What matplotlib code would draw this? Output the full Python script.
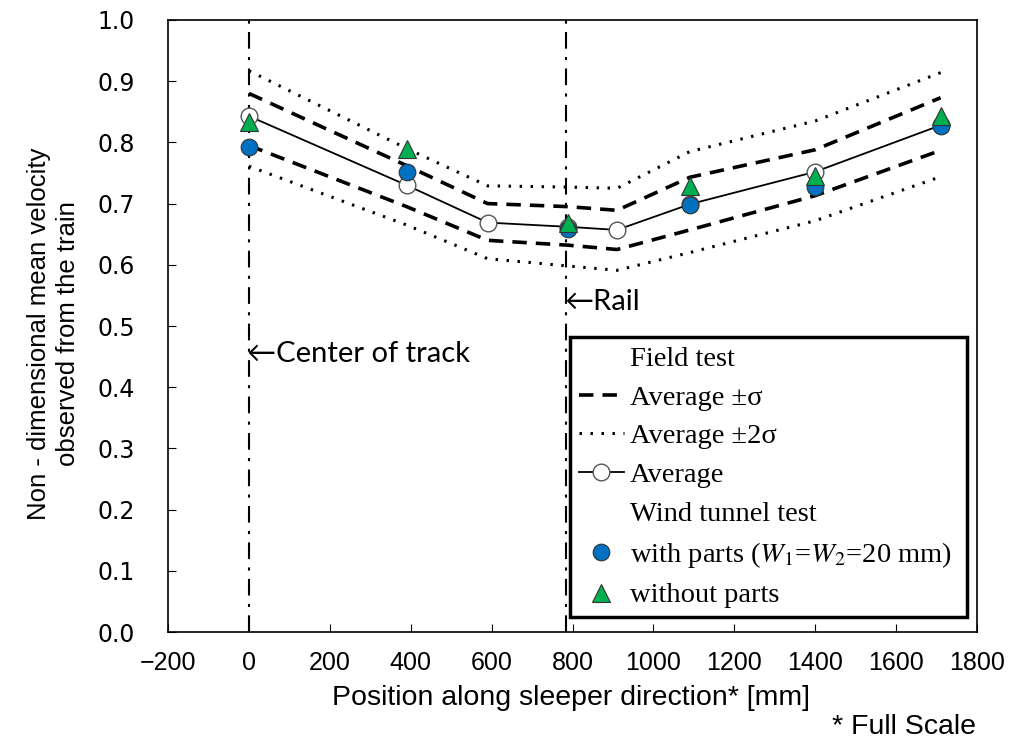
import matplotlib.pyplot as plt
from matplotlib.lines import Line2D

plt.rcParams['font.family'] = ['Liberation Sans', 'DejaVu Sans']
plt.rcParams['mathtext.fontset'] = 'stix'

# field test (positions in mm)
pos = [0, 390, 590, 790, 910, 1090, 1400, 1710]
avg = [0.843, 0.730, 0.669, 0.662, 0.657, 0.699, 0.752, 0.828]
sig_hi = [0.880, 0.762, 0.700, 0.695, 0.689, 0.743, 0.788, 0.873]
sig_lo = [0.795, 0.695, 0.640, 0.632, 0.625, 0.657, 0.713, 0.787]
two_hi = [0.917, 0.790, 0.729, 0.727, 0.725, 0.785, 0.835, 0.914]
two_lo = [0.761, 0.665, 0.610, 0.598, 0.591, 0.620, 0.672, 0.744]

# wind tunnel test
wt_pos = [0, 390, 790, 1090, 1400, 1710]
with_parts = [0.792, 0.752, 0.658, 0.698, 0.727, 0.826]
without_parts = [0.833, 0.790, 0.668, 0.728, 0.745, 0.843]

track_x = 0
rail_x = 785

dash = (0, (4, 2.5))
dots = (0, (0.8, 2.8))

fig = plt.figure(figsize=(10.11, 7.46), dpi=100)
ax = fig.add_axes([0.1662, 0.1528, 0.8002, 0.8204])

ax.axvline(track_x, color='black', lw=1.5, ls=(0, (8, 4, 1.5, 4)), zorder=1)
ax.axvline(rail_x, color='black', lw=1.5, ls=(0, (8, 4, 1.5, 4)), zorder=1)

ax.plot(pos, two_hi, color='black', lw=2.2, ls=dots, zorder=2)
ax.plot(pos, two_lo, color='black', lw=2.2, ls=dots, zorder=2)
ax.plot(pos, sig_hi, color='black', lw=2.6, ls=dash, zorder=2)
ax.plot(pos, sig_lo, color='black', lw=2.6, ls=dash, zorder=2)
ax.plot(pos, avg, color='black', lw=1.3, marker='o', ms=12, mfc='white',
        mec='#555555', mew=1, zorder=3)
ax.plot(wt_pos, with_parts, ls='none', marker='o', ms=12, mfc='#0070C0',
        mec='#333333', mew=0.8, zorder=4)
ax.plot(wt_pos, without_parts, ls='none', marker='^', ms=13, mfc='#00B050',
        mec='#333333', mew=0.8, zorder=5)

ax.text(track_x - 5, 0.454, '\u2190Center of track', fontsize=21,
        family=['Lato', 'DejaVu Sans'], va='center', ha='left')
ax.text(rail_x - 5, 0.54, '\u2190Rail', fontsize=21,
        family=['Lato', 'DejaVu Sans'], va='center', ha='left')

ax.set_xlim(-200, 1800)
ax.set_ylim(0, 1.0)
ax.set_xticks(range(-200, 1801, 200))
ax.set_yticks([i / 10 for i in range(11)])
ax.set_yticklabels([f'{i / 10:.1f}' for i in range(11)],
                   family=['DejaVu Sans'], fontsize=17)
ax.tick_params(direction='in', length=6)
ax.tick_params(axis='x', labelsize=18, pad=14)
ax.tick_params(axis='y', pad=24)
for s in ax.spines.values():
    s.set_linewidth(1.2)

ax.set_xlabel('Position along sleeper direction* [mm]', fontsize=20.5)
ax.xaxis.set_label_coords(0.498, -0.086)
ax.set_ylabel('Non - dimensional mean velocity\nobserved from the train',
              fontsize=18.5, linespacing=1.25)
ax.yaxis.set_label_coords(-0.109, 0.487)
fig.text(0.965, 0.025, '* Full Scale', fontsize=20.5, ha='right', va='center')

blank = Line2D([], [], ls='none')
handles = [
    blank,
    Line2D([], [], color='black', lw=2.6, ls=dash),
    Line2D([], [], color='black', lw=2.2, ls=dots),
    Line2D([], [], color='black', lw=1.3, marker='o', ms=12, mfc='white', mec='#555555'),
    blank,
    Line2D([], [], ls='none', marker='o', ms=12, mfc='#0070C0', mec='#333333', mew=0.8),
    Line2D([], [], ls='none', marker='^', ms=13, mfc='#00B050', mec='#333333', mew=0.8),
]
labels = ['Field test', 'Average \u00b1\u03c3', 'Average \u00b12\u03c3', 'Average',
          'Wind tunnel test', r'with parts ($W_1$=$W_2$=20 mm)', 'without parts']
leg = ax.legend(handles, labels, loc='lower left',
                bbox_to_anchor=(0.497, 0.0245, 0.491, 0.46), mode='expand',
                prop={'family': 'Liberation Serif', 'size': 20.5},
                handlelength=1.6, handletextpad=0.2, labelspacing=0.45,
                fancybox=False, framealpha=1, edgecolor='black',
                borderaxespad=0, borderpad=0.3)
leg.get_frame().set_linewidth(2.5)

fig.savefig('out.png', dpi=100)
